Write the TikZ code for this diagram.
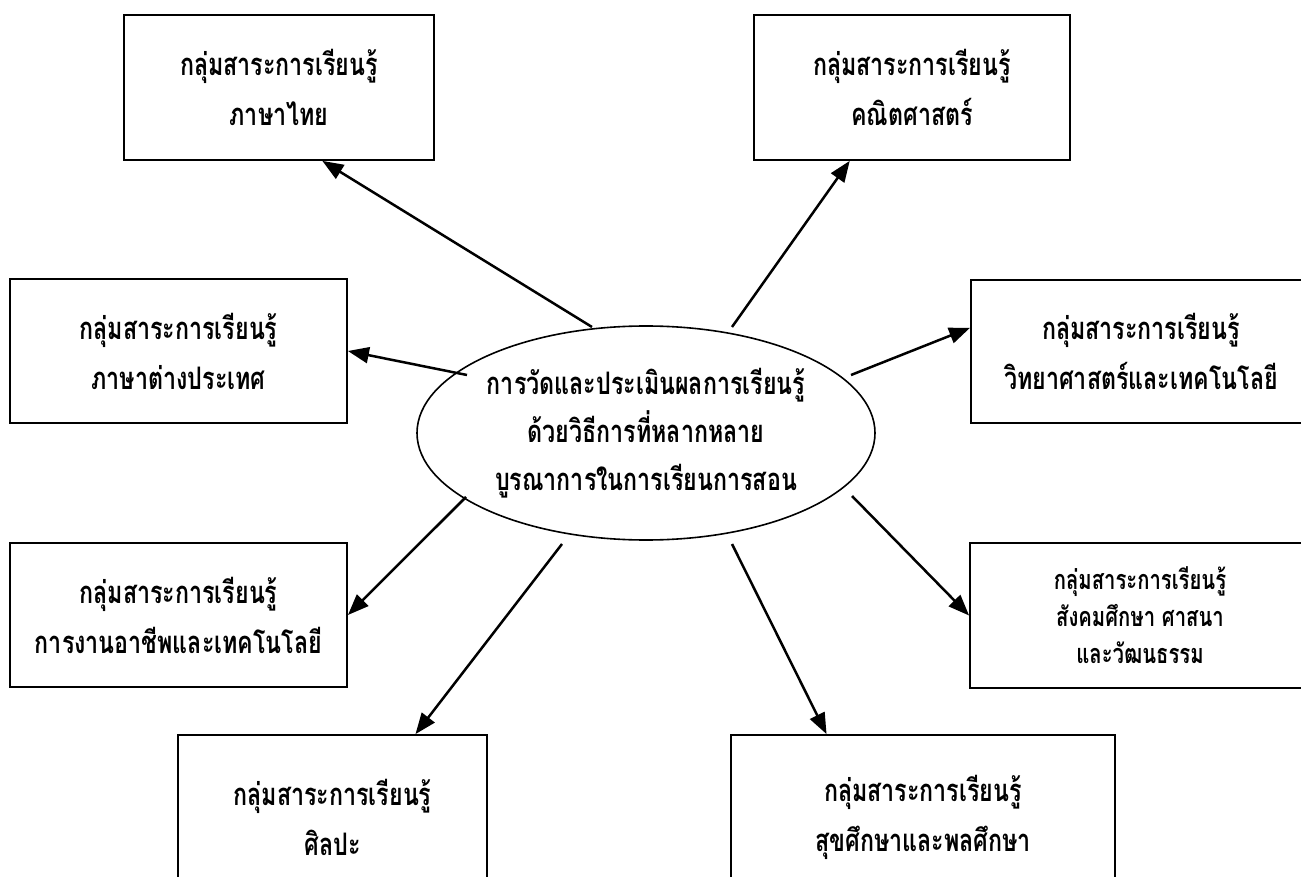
\documentclass[tikz,border=0pt]{standalone}
\usepackage{fontspec}
\newfontfamily\thaifont[Script=Thai,FakeStretch=0.75]{Loma}
\usetikzlibrary{shapes.geometric,arrows.meta,calc}

\tikzset{
  subj/.style={draw, line width=1.8pt, minimum height=145pt, align=center,
    font=\thaifont\bfseries\fontsize{31}{50}\selectfont},
  hub/.style={ellipse, draw, line width=1.6pt, minimum width=458pt, minimum height=214pt,
    inner xsep=-8pt, inner ysep=0pt, align=center, font=\thaifont\bfseries\fontsize{31}{48}\selectfont},
  arr/.style={-{Triangle[length=21pt,width=16pt]}, line width=2.5pt},
}

\begin{document}
\begin{tikzpicture}[x=1pt,y=-1pt]
\useasboundingbox (0,0) rectangle (1301,877);
\clip (0,0) rectangle (1301,877);

\node[hub] (hub) at (646,433) {การวัดและประเมินผลการเรียนรู้\\ด้วยวิธีการที่หลากหลาย\\บูรณาการในการเรียนการสอน};

\node[subj, minimum width=310pt] (thai) at (279,87.5) {กลุ่มสาระการเรียนรู้\\ภาษาไทย};
\node[subj, minimum width=316pt] (math) at (912,87.5) {กลุ่มสาระการเรียนรู้\\คณิตศาสตร์};
\node[subj, minimum width=337pt, minimum height=144pt] (lang) at (178.5,351) {กลุ่มสาระการเรียนรู้\\ภาษาต่างประเทศ};
\node[subj, minimum width=340pt, minimum height=143pt] (sci) at (1141,351.5) {กลุ่มสาระการเรียนรู้\\วิทยาศาสตร์และเทคโนโลยี};
\node[subj, minimum width=337pt, minimum height=144pt] (work) at (178.5,615) {กลุ่มสาระการเรียนรู้\\การงานอาชีพและเทคโนโลยี};
\node[subj, minimum width=340pt, font=\thaifont\bfseries\fontsize{27}{37}\selectfont] (soc) at (1140,615.5) {กลุ่มสาระการเรียนรู้\\สังคมศึกษา ศาสนา\\และวัฒนธรรม};
\node[subj, minimum width=309pt, minimum height=165pt] (art) at (332.5,817.5) {กลุ่มสาระการเรียนรู้\\ศิลปะ};
\node[subj, minimum width=384pt, minimum height=165pt] (health) at (923,817.5) {กลุ่มสาระการเรียนรู้\\สุขศึกษาและพลศึกษา};

\coordinate (s1) at (592,327);
\coordinate (s2) at (732,327);
\coordinate (s3) at (467,375);
\coordinate (s4) at (851,375);
\coordinate (s5) at (466,497);
\coordinate (s6) at (562,544);
\coordinate (s7) at (732,544);
\coordinate (s8) at (852,496);

\draw[arr] (s1) -- ($(thai.south west)!0.639!(thai.south east)$);
\draw[arr] (s2) -- ($(math.south west)!0.304!(math.south east)$);
\draw[arr] (s3) -- (lang.east);
\draw[arr] (s4) -- ($(sci.north west)!0.336!(sci.south west)$);
\draw[arr] (s5) -- (work.east);
\draw[arr] (s6) -- ($(art.north west)!0.767!(art.north east)$);
\draw[arr] (s7) -- ($(health.north west)!0.25!(health.north east)$);
\draw[arr] (s8) -- (soc.west);

\end{tikzpicture}
\end{document}
